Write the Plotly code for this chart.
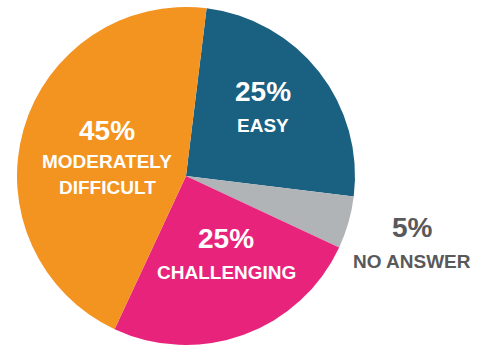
import plotly.graph_objects as go

# Survey response shares (percent), in clockwise order from the top
categories = ["EASY", "NO ANSWER", "CHALLENGING", "MODERATELY<br>DIFFICULT"]
values = [25, 5, 25, 45]
colors = ["#1a6080", "#b1b4b7", "#e8237c", "#f39320"]
text_colors = ["#ffffff", "#58595b", "#ffffff", "#ffffff"]

W, H = 483, 345

# Label anchor positions in pixels: (x, percent y, first label line y)
label_pos = [
    (263, 91, 125.5),
    (412, 227, 261),
    (226, 238, 272.5),
    (107, 131, 161),
]

fig = go.Figure(
    go.Pie(
        labels=categories,
        values=values,
        sort=False,
        direction="clockwise",
        rotation=7,
        marker=dict(colors=colors, line=dict(width=0)),
        textinfo="none",
        hoverinfo="none",
        showlegend=False,
        domain=dict(x=[17 / W, 355 / W], y=[0, 1 - 7 / H]),
    )
)

font_family = "Liberation Sans, Arial, Helvetica, sans-serif"
annotations = []
for cat, val, tc, (px, py_pct, py_lab) in zip(categories, values, text_colors, label_pos):
    annotations.append(
        dict(
            text=f"<b>{val}%</b>",
            x=px / W, y=1 - py_pct / H, xref="paper", yref="paper",
            xanchor="center", yanchor="middle", showarrow=False,
            font=dict(family=font_family, size=28, color=tc),
        )
    )
    for i, line in enumerate(cat.split("<br>")):
        annotations.append(
            dict(
                text=f"<b>{line}</b>",
                x=px / W, y=1 - (py_lab + i * 26.5) / H, xref="paper", yref="paper",
                xanchor="center", yanchor="middle", showarrow=False,
                font=dict(family=font_family, size=19, color=tc),
            )
        )

fig.update_layout(
    width=W,
    height=H,
    margin=dict(l=0, r=0, t=0, b=0),
    paper_bgcolor="white",
    plot_bgcolor="white",
    annotations=annotations,
)

fig.write_html("out.html")
